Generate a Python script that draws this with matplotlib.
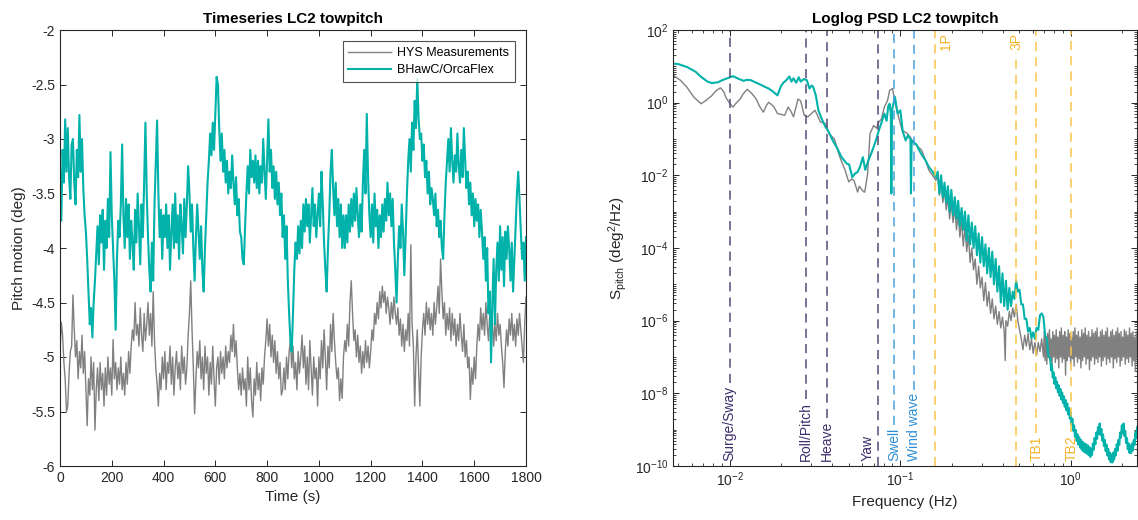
import numpy as np
import matplotlib
matplotlib.use("Agg")
import matplotlib.pyplot as plt
from matplotlib.ticker import FixedLocator, FuncFormatter, LogLocator, LogFormatterMathtext, NullFormatter
from matplotlib.transforms import offset_copy

plt.rcParams['font.family'] = ['Liberation Sans', 'DejaVu Sans']
plt.rcParams['mathtext.fontset'] = 'custom'
plt.rcParams['mathtext.rm'] = 'Liberation Sans'
plt.rcParams['mathtext.it'] = 'Liberation Sans:italic'
plt.rcParams['mathtext.bf'] = 'Liberation Sans:bold'
plt.rcParams['axes.unicode_minus'] = False

# ---------------- data ----------------
series_labels = ['HYS Measurements', 'BHawC/OrcaFlex']
t_start, t_end, t_step = 0, 1800, 5

hys_pitch = [
    -4.95, -4.68, -4.8, -5.05, -5.2, -5.5, -5.45, -5.15, -4.95, -4.9, -4.43, -4.75, -5.0, -4.85, -5.2, -4.95, -5.1, -4.8, -5.15, -4.95,
    -5.3, -5.63, -5.2, -5.35, -5.0, -5.3, -5.05, -5.67, -5.3, -5.1, -5.4, -5.05, -5.3, -5.15, -5.45, -5.1, -5.35, -5.0, -5.25, -5.1,
    -5.35, -4.84, -5.2, -5.05, -5.3, -5.1, -5.25, -5.0, -5.3, -5.15, -5.35, -5.05, -5.25, -4.95, -5.15, -4.9, -4.75, -4.85, -4.5, -4.8,
    -4.7, -4.9, -4.55, -4.8, -4.95, -4.6, -4.85, -4.7, -4.5, -4.8, -4.6, -4.9, -4.4, -4.85, -5.1, -5.25, -5.45, -5.15, -5.3, -5.0,
    -5.2, -4.95, -5.3, -5.05, -5.15, -4.9, -5.25, -5.0, -5.35, -5.1, -4.95, -5.2, -5.05, -5.3, -4.9, -5.15, -5.0, -5.25, -5.1, -4.8,
    -4.6, -4.3, -4.75, -5.1, -5.52, -5.2, -4.95, -5.1, -4.85, -5.2, -5.0, -5.3, -4.9, -5.15, -5.0, -5.35, -5.05, -5.25, -4.9, -5.2,
    -5.45, -5.1, -5.0, -5.25, -4.95, -5.15, -5.0, -5.2, -4.9, -5.1, -4.95, -5.05, -4.8, -4.95, -4.7, -5.0, -4.85, -5.1, -5.3, -5.15,
    -5.35, -5.1, -5.3, -5.2, -5.45, -5.0, -5.3, -5.1, -5.4, -5.55, -5.2, -5.35, -5.05, -5.3, -5.15, -5.4, -5.1, -5.25, -5.0, -4.85,
    -4.65, -4.9, -4.7, -5.0, -4.8, -5.05, -4.85, -5.15, -4.95, -5.2, -5.05, -5.35, -5.3, -5.1, -5.3, -5.0, -5.2, -4.95, -4.85, -5.1,
    -4.9, -5.2, -5.05, -5.3, -4.95, -5.15, -5.0, -4.8, -5.1, -4.9, -5.25, -5.0, -5.3, -4.85, -5.1, -5.35, -5.0, -5.2, -5.1, -5.45,
    -5.0, -5.2, -4.85, -5.1, -4.75, -5.0, -5.3, -4.9, -5.1, -4.7, -4.95, -4.6, -4.85, -5.05, -5.2, -5.1, -5.4, -5.2, -5.38, -5.0,
    -4.85, -4.95, -4.7, -4.9, -4.5, -4.3, -4.6, -4.85, -4.75, -5.0, -4.8, -5.05, -4.9, -5.15, -4.95, -5.1, -4.85, -5.05, -4.9, -5.1,
    -4.95, -4.75, -4.85, -4.6, -4.7, -4.5, -4.65, -4.4, -4.55, -4.35, -4.5, -4.4, -4.6, -4.45, -4.55, -4.7, -4.5, -4.65, -4.45, -4.6,
    -4.7, -4.55, -4.8, -4.65, -4.9, -4.7, -4.95, -4.75, -4.85, -4.6, -4.9, -3.97, -4.7, -4.9, -5.45, -5.0, -4.75, -5.1, -5.45, -5.0,
    -4.75, -4.6, -4.8, -4.5, -4.7, -4.55, -4.75, -4.6, -4.8, -4.5, -4.7, -4.55, -4.35, -4.6, -4.1, -4.4, -4.65, -4.5, -4.8, -4.6,
    -4.75, -4.55, -4.85, -4.6, -4.8, -4.65, -4.9, -4.7, -4.85, -4.6, -4.8, -4.95, -4.7, -5.0, -4.85, -5.1, -5.0, -5.39, -5.1, -5.25,
    -5.0, -5.2, -4.9, -4.7, -4.85, -4.55, -4.75, -4.6, -4.8, -4.5, -4.7, -4.85, -4.6, -4.8, -4.65, -4.9, -4.7, -4.85, -4.6, -4.8,
    -4.7, -4.9, -5.05, -5.28, -4.95, -4.75, -4.9, -4.65, -4.8, -4.6, -4.85, -4.7, -4.9, -4.65, -4.8, -4.6, -4.75, -4.9, -5.05, -4.7, -4.45,
]

bhawc_pitch = [
    -3.3, -3.75, -3.1, -3.4, -2.82, -3.3, -2.9, -3.35, -3.55, -3.05, -3.0, -3.4, -3.6, -3.1, -3.35, -2.78, -3.3, -3.0, -3.45, -3.7,
    -3.85, -4.1, -4.4, -4.7, -4.55, -4.82, -4.5, -4.3, -4.05, -3.8, -4.15, -3.7, -3.95, -3.65, -4.2, -3.75, -4.0, -3.55, -3.9, -3.12,
    -3.7, -4.0, -4.3, -4.75, -4.1, -3.75, -3.9, -3.6, -3.05, -3.7, -4.0, -3.55, -3.9, -3.6, -4.1, -3.75, -3.95, -4.2, -3.65, -3.95,
    -3.5, -3.8, -4.15, -3.6, -3.9, -3.4, -2.85, -3.5, -3.9, -4.2, -4.4, -3.95, -4.3, -3.6, -3.2, -2.83, -3.5, -3.9, -3.65, -4.1,
    -3.7, -3.9, -3.6, -4.0, -3.7, -4.2, -3.85, -3.6, -4.0, -3.5, -3.95, -3.7, -4.1, -3.6, -3.8, -4.05, -3.55, -3.9, -3.6, -3.25,
    -3.5, -3.85, -3.6, -4.0, -4.3, -3.9, -3.6, -3.85, -4.1, -3.8, -4.2, -4.4, -4.0, -3.7, -3.4, -3.2, -2.95, -3.15, -2.85, -3.1,
    -2.75, -2.43, -2.5, -2.9, -3.2, -2.95, -3.3, -3.1, -3.4, -3.2, -3.5, -3.3, -3.45, -3.15, -3.4, -3.6, -3.35, -3.7, -3.55, -3.85,
    -3.9, -4.1, -4.15, -3.8, -3.5, -3.25, -3.5, -3.1, -3.35, -3.2, -3.4, -3.15, -3.45, -3.2, -3.5, -3.25, -3.4, -3.0, -3.3, -3.55,
    -3.2, -2.82, -3.3, -3.1, -3.45, -3.25, -3.55, -3.3, -3.6, -3.4, -3.7, -3.5, -3.9, -3.7, -4.1, -3.8, -4.3, -4.6, -4.85, -4.95,
    -4.6, -4.2, -3.95, -4.1, -3.8, -4.05, -3.75, -4.0, -3.6, -3.85, -3.55, -3.8, -3.6, -3.95, -3.7, -3.45, -3.8, -3.6, -3.9, -3.7,
    -3.5, -3.8, -3.3, -3.6, -3.95, -4.2, -4.4, -4.0, -3.7, -3.3, -3.1, -3.45, -3.7, -3.4, -3.8, -3.55, -3.9, -3.6, -4.0, -3.7,
    -4.0, -3.7, -3.95, -3.6, -3.85, -3.55, -3.8, -3.5, -3.75, -3.45, -3.7, -3.9, -3.6, -3.85, -3.4, -3.1, -3.5, -2.77, -3.35, -3.7,
    -3.9, -3.6, -3.95, -3.5, -3.8, -3.65, -4.0, -3.7, -3.9, -3.6, -3.85, -3.55, -3.75, -3.4, -3.7, -3.5, -3.8, -3.55, -3.95, -4.2,
    -4.5, -4.1, -3.8, -4.0, -3.6, -3.85, -4.25, -3.9, -3.5, -3.2, -3.0, -3.3, -2.85, -3.1, -2.65, -2.9, -2.45, -2.8, -3.0, -2.95,
    -3.2, -3.05, -3.35, -3.2, -3.5, -3.3, -3.6, -3.45, -3.55, -3.7, -3.5, -3.8, -3.65, -3.9, -3.75, -4.0, -4.1, -3.7, -3.4, -3.2,
    -3.0, -3.3, -2.9, -3.2, -3.4, -3.15, -3.3, -2.95, -3.25, -3.4, -3.1, -3.35, -2.9, -3.2, -3.45, -3.3, -3.6, -3.4, -3.7, -3.5,
    -3.8, -3.55, -3.75, -3.6, -3.9, -3.65, -3.85, -4.1, -3.9, -4.3, -4.0, -4.6, -4.4, -5.05, -4.5, -4.1, -4.7, -4.2, -3.95, -4.3,
    -3.8, -4.2, -3.9, -4.35, -3.85, -4.1, -3.8, -4.0, -4.3, -3.95, -4.4, -4.1, -3.8, -3.5, -3.3, -3.55, -3.85, -4.1, -3.95, -4.3, -3.9,
]

# PSD points: (log10 frequency [Hz], log10 S [deg^2/Hz])
hys_psd_pts = [
    (-2.331, 0.75), (-2.29, 0.62), (-2.252, 0.43), (-2.21, 0.15), (-2.168, -0.03), (-2.14, 0.06), (-2.106, 0.19),
    (-2.08, 0.33), (-2.054, 0.41), (-2.035, 0.30), (-2.022, 0.14), (-2.0, -0.02), (-1.981, -0.12), (-1.96, 0.0),
    (-1.939, 0.10), (-1.92, 0.25), (-1.897, 0.37), (-1.87, 0.25), (-1.845, 0.10), (-1.825, -0.10), (-1.803, -0.26),
    (-1.785, -0.08), (-1.772, 0.01), (-1.755, -0.05), (-1.74, -0.12), (-1.72, -0.30), (-1.70, -0.32), (-1.678, -0.35),
    (-1.657, -0.12), (-1.64, -0.25), (-1.626, -0.39), (-1.61, -0.10), (-1.60, 0.10), (-1.584, 0.05), (-1.563, -0.35),
    (-1.542, -0.39), (-1.521, -0.30), (-1.50, -0.21), (-1.485, -0.35), (-1.469, -0.53), (-1.438, -0.58), (-1.417, -0.85),
    (-1.386, -1.0), (-1.354, -1.5), (-1.323, -1.86), (-1.302, -2.18), (-1.285, -2.1), (-1.271, -2.14), (-1.25, -2.46),
    (-1.24, -2.3), (-1.229, -2.37), (-1.215, -2.45), (-1.208, -2.46), (-1.191, -1.95), (-1.177, -0.85), (-1.156, -0.63),
    (-1.14, -0.7), (-1.125, -0.53), (-1.11, -0.45), (-1.093, -0.12), (-1.075, 0.05), (-1.062, 0.34), (-1.045, 0.39),
    (-1.03, 0.0), (-1.02, -0.21), (-0.989, -0.76), (-0.957, -0.85), (-0.935, -1.0), (-0.915, -1.12), (-0.874, -1.31),
    (-0.85, -1.6), (-0.832, -1.86), (-0.81, -2.0), (-0.791, -2.14),
    (-0.78, -2.0), (-0.77, -2.55), (-0.76, -2.15), (-0.75, -2.75), (-0.74, -2.4), (-0.73, -2.95), (-0.72, -2.6),
    (-0.71, -3.2), (-0.70, -2.75), (-0.69, -3.3), (-0.68, -2.9), (-0.67, -3.5), (-0.66, -3.05), (-0.65, -3.7),
    (-0.64, -3.25), (-0.63, -3.95), (-0.62, -3.4), (-0.61, -4.1), (-0.60, -3.65), (-0.59, -4.4), (-0.58, -4.0),
    (-0.57, -4.6), (-0.56, -4.3), (-0.55, -5.0), (-0.54, -4.5), (-0.53, -5.1), (-0.52, -4.8), (-0.51, -5.45),
    (-0.50, -4.95), (-0.49, -5.6), (-0.48, -5.2), (-0.47, -5.8), (-0.46, -5.4), (-0.45, -5.95), (-0.44, -5.6),
    (-0.43, -6.1), (-0.42, -5.75), (-0.41, -6.2), (-0.40, -5.9), (-0.39, -6.3), (-0.384, -7.1), (-0.38, -6.0),
    (-0.37, -6.15), (-0.36, -5.75), (-0.35, -6.0), (-0.34, -5.65), (-0.33, -5.9), (-0.32, -5.55), (-0.31, -6.0),
    (-0.30, -6.25), (-0.29, -6.5), (-0.28, -6.8), (-0.27, -6.4), (-0.26, -6.7), (-0.25, -6.35), (-0.24, -6.8),
    (-0.23, -6.5), (-0.22, -6.9), (-0.21, -6.6), (-0.20, -6.95), (-0.19, -6.6), (-0.18, -6.85), (-0.17, -6.5),
    (-0.160, -7.0), (-0.155, -6.3), (-0.150, -7.1), (-0.145, -6.45), (-0.140, -7.2), (-0.135, -6.35), (-0.130, -7.0),
    (-0.125, -6.25), (-0.120, -7.1), (-0.115, -6.5), (-0.110, -7.25), (-0.105, -6.3), (-0.100, -7.0), (-0.095, -6.4),
    (-0.090, -7.15), (-0.085, -6.25), (-0.080, -7.05), (-0.075, -6.45), (-0.070, -7.3), (-0.065, -6.3), (-0.060, -7.0),
    (-0.055, -6.2), (-0.050, -7.15), (-0.045, -6.4), (-0.040, -7.05), (-0.035, -6.3), (-0.030, -7.5), (-0.025, -6.45),
    (-0.020, -7.1), (-0.015, -6.25), (-0.010, -7.0), (-0.005, -6.35), (0.000, -7.2), (0.005, -6.45), (0.010, -7.05),
    (0.015, -6.3), (0.020, -7.25), (0.025, -6.2), (0.030, -7.0), (0.035, -6.4), (0.040, -7.15), (0.045, -6.3),
    (0.050, -7.05), (0.055, -6.45), (0.060, -7.3), (0.065, -6.25), (0.070, -7.1), (0.075, -6.35), (0.080, -7.0),
    (0.085, -6.2), (0.090, -7.2), (0.095, -6.4), (0.100, -7.05), (0.105, -6.3), (0.110, -7.35), (0.115, -6.45),
    (0.120, -7.1), (0.125, -6.25), (0.130, -7.0), (0.135, -6.35), (0.140, -7.2), (0.145, -6.3), (0.150, -7.05),
    (0.155, -6.2), (0.160, -7.15), (0.165, -6.45), (0.170, -7.0), (0.175, -6.3), (0.180, -7.25), (0.185, -6.25),
    (0.190, -7.1), (0.195, -6.4), (0.200, -7.0), (0.205, -6.3), (0.210, -7.2), (0.215, -6.2), (0.220, -7.05),
    (0.225, -6.45), (0.230, -7.15), (0.235, -6.3), (0.240, -7.0), (0.245, -6.25), (0.250, -7.3), (0.255, -6.4),
    (0.260, -7.05), (0.265, -6.3), (0.270, -7.15), (0.275, -6.2), (0.280, -7.0), (0.285, -6.35), (0.290, -7.25),
    (0.295, -6.3), (0.300, -7.1), (0.305, -6.45), (0.310, -7.0), (0.315, -6.25), (0.320, -7.2), (0.325, -6.3),
    (0.330, -7.05), (0.335, -6.4), (0.340, -7.15), (0.345, -6.2), (0.350, -7.0), (0.355, -6.35), (0.360, -7.25),
    (0.365, -6.3), (0.370, -7.1), (0.375, -6.45), (0.380, -7.4), (0.385, -6.3), (0.390, -7.0),
]

bhawc_psd_pts = [
    (-2.331, 1.075), (-2.30, 1.06), (-2.25, 0.98), (-2.20, 0.85), (-2.168, 0.71), (-2.13, 0.58), (-2.106, 0.54),
    (-2.07, 0.56), (-2.043, 0.62), (-2.01, 0.68), (-1.981, 0.73), (-1.95, 0.66), (-1.918, 0.60), (-1.90, 0.63),
    (-1.876, 0.62), (-1.855, 0.57), (-1.835, 0.53), (-1.80, 0.45), (-1.772, 0.39), (-1.745, 0.30), (-1.72, 0.20),
    (-1.70, 0.45), (-1.685, 0.55), (-1.668, 0.62), (-1.65, 0.72), (-1.638, 0.58), (-1.626, 0.67), (-1.61, 0.55),
    (-1.595, 0.70), (-1.584, 0.58), (-1.565, 0.65), (-1.548, 0.62), (-1.532, 0.39), (-1.52, 0.47), (-1.511, 0.44),
    (-1.495, 0.20), (-1.48, -0.21), (-1.46, -0.45), (-1.438, -0.67), (-1.42, -0.80), (-1.396, -1.04), (-1.37, -1.25),
    (-1.344, -1.50), (-1.313, -1.68), (-1.30, -1.70), (-1.281, -2.05), (-1.265, -1.95), (-1.25, -1.91), (-1.235, -1.75),
    (-1.219, -1.50), (-1.205, -1.85), (-1.187, -1.59), (-1.17, -1.40), (-1.156, -1.22), (-1.14, -1.00), (-1.125, -0.76),
    (-1.11, -0.55), (-1.093, -0.30), (-1.08, -0.50), (-1.07, -0.10), (-1.062, -0.03), (-1.055, -0.30), (-1.052, -2.5),
    (-1.048, -0.20), (-1.031, 0.16), (-1.015, -0.30), (-0.999, -0.21), (-0.985, -0.80), (-0.968, -1.04), (-0.955, -0.90),
    (-0.94, -1.0), (-0.937, -2.5), (-0.933, -1.05), (-0.92, -1.1), (-0.905, -1.15), (-0.89, -1.30), (-0.874, -1.43),
    (-0.85, -1.60), (-0.832, -1.77), (-0.81, -1.90), (-0.79, -2.05),
    (-0.78, -1.9), (-0.77, -2.5), (-0.76, -2.0), (-0.75, -2.6), (-0.74, -2.2), (-0.73, -2.75), (-0.72, -2.3),
    (-0.71, -3.0), (-0.70, -2.4), (-0.69, -3.1), (-0.68, -2.6), (-0.67, -3.2), (-0.66, -2.7), (-0.65, -3.4),
    (-0.64, -2.9), (-0.63, -3.5), (-0.62, -3.0), (-0.61, -3.8), (-0.60, -3.1), (-0.59, -3.9), (-0.58, -3.3),
    (-0.57, -4.0), (-0.56, -3.4), (-0.55, -4.2), (-0.54, -3.6), (-0.53, -4.4), (-0.52, -3.7), (-0.51, -4.5),
    (-0.50, -3.9), (-0.49, -4.7), (-0.48, -4.0), (-0.47, -4.8), (-0.46, -4.1), (-0.45, -5.0), (-0.44, -4.3),
    (-0.43, -5.2), (-0.42, -4.5), (-0.41, -5.5), (-0.40, -4.7), (-0.39, -5.6), (-0.38, -4.9), (-0.37, -5.7),
    (-0.36, -5.1), (-0.35, -5.6), (-0.34, -5.2), (-0.33, -5.4),
    (-0.32, -4.9), (-0.31, -5.2), (-0.30, -5.15), (-0.29, -5.55), (-0.28, -5.55), (-0.27, -5.95), (-0.26, -5.95),
    (-0.25, -6.3), (-0.24, -6.2), (-0.23, -6.48), (-0.22, -6.32), (-0.21, -6.5), (-0.20, -6.2), (-0.19, -6.25),
    (-0.18, -5.85), (-0.17, -5.8), (-0.16, -5.9), (-0.15, -6.4), (-0.14, -6.5), (-0.13, -7.0),
    (-0.120, -7.03), (-0.115, -7.37), (-0.110, -7.23), (-0.105, -7.57), (-0.100, -7.43), (-0.095, -7.74),
    (-0.090, -7.56), (-0.085, -7.86), (-0.080, -7.68), (-0.075, -7.97), (-0.070, -7.78), (-0.065, -8.07),
    (-0.060, -7.88), (-0.055, -8.17), (-0.050, -7.98), (-0.045, -8.27), (-0.040, -8.08), (-0.035, -8.37),
    (-0.030, -8.18), (-0.025, -8.47), (-0.020, -8.28), (-0.015, -8.58), (-0.010, -8.40), (-0.005, -8.70),
    (0.000, -8.53), (0.005, -8.86), (0.010, -8.70), (0.015, -9.03), (0.020, -8.88), (0.025, -9.19),
    (0.030, -9.01), (0.035, -9.31), (0.040, -9.13), (0.045, -9.41), (0.050, -9.21), (0.055, -9.49),
    (0.060, -9.28), (0.065, -9.55), (0.070, -9.33), (0.075, -9.60), (0.080, -9.38), (0.085, -9.63),
    (0.090, -9.40), (0.095, -9.66), (0.100, -9.43), (0.105, -9.70), (0.110, -9.48), (0.115, -9.75),
    (0.120, -9.53), (0.125, -9.70), (0.130, -9.38), (0.135, -9.55), (0.140, -9.23), (0.145, -9.40),
    (0.150, -9.08), (0.155, -9.25), (0.160, -8.93), (0.165, -9.12), (0.170, -8.83), (0.175, -9.15),
    (0.180, -8.98), (0.185, -9.30), (0.190, -9.13), (0.195, -9.45), (0.200, -9.28), (0.205, -9.59),
    (0.210, -9.41), (0.215, -9.71), (0.220, -9.53), (0.225, -9.82), (0.230, -9.63), (0.235, -9.90),
    (0.240, -9.68), (0.245, -9.90), (0.250, -9.63), (0.255, -9.82), (0.260, -9.53), (0.265, -9.71),
    (0.270, -9.40), (0.275, -9.58), (0.280, -9.28), (0.285, -9.42), (0.290, -9.08), (0.295, -9.22),
    (0.300, -8.88), (0.305, -9.10), (0.310, -8.83), (0.315, -9.17), (0.320, -9.03), (0.325, -9.37),
    (0.330, -9.23), (0.335, -9.54), (0.340, -9.38), (0.345, -9.64), (0.350, -9.43), (0.355, -9.64),
    (0.360, -9.38), (0.365, -9.57), (0.370, -9.28), (0.375, -9.42), (0.380, -9.08), (0.385, -9.24),
    (0.390, -8.93),
]

marker_freqs = [0.01, 0.028, 0.037, 0.074, 0.092, 0.121, 0.16, 0.48, 0.63, 1.01]
marker_labels = ['Surge/Sway', 'Roll/Pitch', 'Heave', 'Yaw', 'Swell', 'Wind wave', '1P', '3P', 'TB1', 'TB2']
marker_groups = ['platform', 'platform', 'platform', 'platform', 'wave', 'wave',
                 'turbine', 'turbine', 'turbine', 'turbine']

# ---------------- styles ----------------
c_hys = '#808080'
c_bhawc = '#00b2aa'
axis_col = '#262626'
line_cols = {'platform': '#564a7c', 'wave': '#4aa0dc', 'turbine': '#f8c54a'}
text_cols = {'platform': '#3d2e6c', 'wave': '#2f8fd6', 'turbine': '#f4b52a'}
label_align = {'Yaw': ('bottom', 'left'), '1P': ('top', 'right'), '3P': ('top', 'center')}

W, H = 1138, 520
fig = plt.figure(figsize=(W / 100, H / 100), dpi=100)
ax1 = fig.add_axes([60 / W, 54 / H, 466 / W, 436 / H])
ax2 = fig.add_axes([673.3 / W, 54 / H, 463.2 / W, 436 / H])

# ---------------- left: timeseries ----------------
time_s = np.arange(t_start, t_end + t_step, t_step)
ax1.plot(time_s, hys_pitch, color=c_hys, lw=1.0, label=series_labels[0])
ax1.plot(time_s, bhawc_pitch, color=c_bhawc, lw=1.5, label=series_labels[1])
ax1.set_xlim(0, 1800)
ax1.set_ylim(-6, -2)
ax1.set_xticks(np.arange(0, 1801, 200))
ax1.set_yticks(np.arange(-6, -1.99, 0.5))
fmt = FuncFormatter(lambda v, p: '%g' % v)
ax1.xaxis.set_major_formatter(fmt)
ax1.yaxis.set_major_formatter(fmt)
ax1.set_xlabel('Time (s)', fontsize=11, color=axis_col)
ax1.set_ylabel('Pitch motion (deg)', fontsize=11, color=axis_col)
ax1.set_title('Timeseries LC2 towpitch', fontsize=11, fontweight='bold', color='black', pad=5)
leg = ax1.legend(loc='upper right', fontsize=9, fancybox=False, edgecolor=axis_col,
                 handlelength=3.4, borderaxespad=0.9, labelspacing=0.4, borderpad=0.45,
                 handletextpad=0.5)
leg.get_frame().set_linewidth(0.8)

# ---------------- right: PSD ----------------
hf = 10 ** np.array([p[0] for p in hys_psd_pts])
hs = 10 ** np.array([p[1] for p in hys_psd_pts])
bf = 10 ** np.array([p[0] for p in bhawc_psd_pts])
bs = 10 ** np.array([p[1] for p in bhawc_psd_pts])
ax2.plot(hf, hs, color=c_hys, lw=1.0)
ax2.plot(bf, bs, color=c_bhawc, lw=1.5)
ax2.set_xscale('log')
ax2.set_yscale('log')
ax2.set_xlim(10 ** -2.331, 10 ** 0.386)
ax2.set_ylim(1e-10, 1e2)
ax2.yaxis.set_major_locator(FixedLocator([10.0 ** e for e in range(-10, 3, 2)]))
ax2.yaxis.set_major_formatter(LogFormatterMathtext())
ax2.yaxis.set_minor_locator(LogLocator(base=10, subs=np.arange(1, 10), numticks=100))
ax2.yaxis.set_minor_formatter(NullFormatter())
ax2.xaxis.set_major_locator(LogLocator(base=10, numticks=20))
ax2.xaxis.set_minor_locator(LogLocator(base=10, subs=np.arange(2, 10), numticks=20))
ax2.xaxis.set_minor_formatter(NullFormatter())
ax2.set_xlabel('Frequency (Hz)', fontsize=11, color=axis_col)
ax2.set_ylabel(r'S$_{\mathrm{pitch}}$ (deg$^{2}$/Hz)', fontsize=11, color=axis_col)
ax2.set_title('Loglog PSD LC2 towpitch', fontsize=11, fontweight='bold', color='black', pad=5)

for ax in (ax1, ax2):
    for s in ax.spines.values():
        s.set_color(axis_col)
        s.set_linewidth(0.8)
    ax.tick_params(which='major', direction='in', top=True, right=True, length=4.5, width=0.7,
                   colors=axis_col, labelsize=10, labelcolor=axis_col)
    ax.tick_params(which='minor', direction='in', top=True, right=True, length=2.5, width=0.6,
                   colors=axis_col)

# marker lines with labels
fig.canvas.draw()
renderer = fig.canvas.get_renderer()
xtrans = ax2.get_xaxis_transform()
px = 1.0 / ax2.get_window_extent().height
for f, lab, grp in zip(marker_freqs, marker_labels, marker_groups):
    va, ha = label_align.get(lab, ('bottom', 'center'))
    ty = 0 if va == 'bottom' else 1
    dy = 5 if va == 'bottom' else -3
    if ha == 'center':
        hal, dx = 'center', 0
    elif ha == 'left':
        hal, dx = 'right', -3
    else:
        hal, dx = 'left', 4
    tr = offset_copy(xtrans, fig=fig, x=dx, y=dy, units='dots')
    txt = ax2.text(f, ty, lab, rotation=90, ha=hal, va=va, transform=tr,
                   color=text_cols[grp], fontsize=10)
    ls = dict(color=line_cols[grp], lw=1.1, dashes=(6, 4))
    if ha == 'center':
        bb = txt.get_window_extent(renderer)
        inv = ax2.transAxes.inverted()
        y0 = inv.transform((bb.x0, bb.y0))[1]
        y1 = inv.transform((bb.x1, bb.y1))[1]
        if va == 'bottom':
            ax2.axvline(f, ymin=y1 + 3 * px, ymax=1, **ls)
        else:
            ax2.axvline(f, ymin=0, ymax=y0 - 3 * px, **ls)
    else:
        ax2.axvline(f, ymin=0, ymax=1, **ls)

fig.savefig('out.png', dpi=100)
